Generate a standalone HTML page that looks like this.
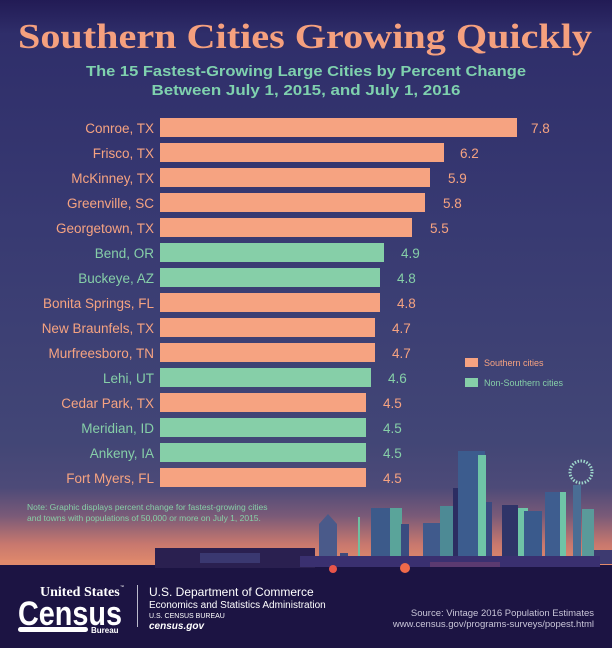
<!DOCTYPE html>
<html><head><meta charset="utf-8"><style>
html,body{margin:0;padding:0;background:#1c1443}
svg{display:block}
</style></head><body>
<svg width="612" height="648" viewBox="0 0 612 648" xmlns="http://www.w3.org/2000/svg">
<defs>
<linearGradient id="bg" x1="0" y1="0" x2="0" y2="567" gradientUnits="userSpaceOnUse">
<stop offset="0" stop-color="#221b55"/>
<stop offset="0.06" stop-color="#2f2e6a"/>
<stop offset="0.40" stop-color="#383a72"/>
<stop offset="0.78" stop-color="#424676"/>
<stop offset="0.86" stop-color="#4d4a78"/>
<stop offset="0.91" stop-color="#7a5a78"/>
<stop offset="0.96" stop-color="#c8786e"/>
<stop offset="1" stop-color="#e58d6b"/>
</linearGradient>
</defs>
<rect width="612" height="567" fill="url(#bg)"/>
<rect y="565" width="612" height="83" fill="#1c1443"/>

<text x="305" y="48" text-anchor="middle" font-family="Liberation Serif, serif" font-weight="bold" font-size="35" fill="#f5a07e" textLength="574" lengthAdjust="spacingAndGlyphs">Southern Cities Growing Quickly</text>
<g font-family="Liberation Sans, sans-serif" font-weight="bold" font-size="14.5" fill="#7fd1ae" text-anchor="middle">
<text x="306" y="76" textLength="440" lengthAdjust="spacingAndGlyphs">The 15 Fastest-Growing Large Cities by Percent Change</text>
<text x="306" y="95" textLength="309" lengthAdjust="spacingAndGlyphs">Between July 1, 2015, and July 1, 2016</text>
</g>

<g font-family="Liberation Sans, sans-serif" font-size="13.5">
<rect x="160" y="118" width="357" height="19" fill="#f6a381"/><text x="154" y="133" text-anchor="end" fill="#f6a381">Conroe, TX</text><text x="531" y="133" fill="#f6a381">7.8</text>
<rect x="160" y="143" width="284" height="19" fill="#f6a381"/><text x="154" y="158" text-anchor="end" fill="#f6a381">Frisco, TX</text><text x="460" y="158" fill="#f6a381">6.2</text>
<rect x="160" y="168" width="270" height="19" fill="#f6a381"/><text x="154" y="183" text-anchor="end" fill="#f6a381">McKinney, TX</text><text x="448" y="183" fill="#f6a381">5.9</text>
<rect x="160" y="193" width="265" height="19" fill="#f6a381"/><text x="154" y="208" text-anchor="end" fill="#f6a381">Greenville, SC</text><text x="443" y="208" fill="#f6a381">5.8</text>
<rect x="160" y="218" width="252" height="19" fill="#f6a381"/><text x="154" y="233" text-anchor="end" fill="#f6a381">Georgetown, TX</text><text x="430" y="233" fill="#f6a381">5.5</text>
<rect x="160" y="243" width="224" height="19" fill="#86cfa8"/><text x="154" y="258" text-anchor="end" fill="#86cfa8">Bend, OR</text><text x="401" y="258" fill="#86cfa8">4.9</text>
<rect x="160" y="268" width="220" height="19" fill="#86cfa8"/><text x="154" y="283" text-anchor="end" fill="#86cfa8">Buckeye, AZ</text><text x="397" y="283" fill="#86cfa8">4.8</text>
<rect x="160" y="293" width="220" height="19" fill="#f6a381"/><text x="154" y="308" text-anchor="end" fill="#f6a381">Bonita Springs, FL</text><text x="397" y="308" fill="#f6a381">4.8</text>
<rect x="160" y="318" width="215" height="19" fill="#f6a381"/><text x="154" y="333" text-anchor="end" fill="#f6a381">New Braunfels, TX</text><text x="392" y="333" fill="#f6a381">4.7</text>
<rect x="160" y="343" width="215" height="19" fill="#f6a381"/><text x="154" y="358" text-anchor="end" fill="#f6a381">Murfreesboro, TN</text><text x="392" y="358" fill="#f6a381">4.7</text>
<rect x="160" y="368" width="211" height="19" fill="#86cfa8"/><text x="154" y="383" text-anchor="end" fill="#86cfa8">Lehi, UT</text><text x="388" y="383" fill="#86cfa8">4.6</text>
<rect x="160" y="393" width="206" height="19" fill="#f6a381"/><text x="154" y="408" text-anchor="end" fill="#f6a381">Cedar Park, TX</text><text x="383" y="408" fill="#f6a381">4.5</text>
<rect x="160" y="418" width="206" height="19" fill="#86cfa8"/><text x="154" y="433" text-anchor="end" fill="#86cfa8">Meridian, ID</text><text x="383" y="433" fill="#86cfa8">4.5</text>
<rect x="160" y="443" width="206" height="19" fill="#86cfa8"/><text x="154" y="458" text-anchor="end" fill="#86cfa8">Ankeny, IA</text><text x="383" y="458" fill="#86cfa8">4.5</text>
<rect x="160" y="468" width="206" height="19" fill="#f6a381"/><text x="154" y="483" text-anchor="end" fill="#f6a381">Fort Myers, FL</text><text x="383" y="483" fill="#f6a381">4.5</text>
</g>

<rect x="465" y="358" width="13" height="9" fill="#f6a381"/>
<text x="484" y="366" font-family="Liberation Sans, sans-serif" font-size="9" fill="#f6a381">Southern cities</text>
<rect x="465" y="378" width="13" height="9" fill="#86cfa8"/>
<text x="484" y="386" font-family="Liberation Sans, sans-serif" font-size="9" fill="#86cfa8">Non-Southern cities</text>

<g font-family="Liberation Sans, sans-serif" font-size="8.5" fill="#86cfa8">
<text x="27" y="510">Note: Graphic displays percent change for fastest-growing cities</text>
<text x="27" y="521">and towns with populations of 50,000 or more on July 1, 2015.</text>
</g>

<g>
<rect x="155" y="548" width="160" height="20" fill="#2a2050"/>
<rect x="200" y="553" width="60" height="10" fill="#3a3870"/>
<polygon points="319,560 319,524 328,514 337,524 337,560" fill="#4a5a8a"/>
<rect x="340" y="553" width="8" height="10" fill="#3d4a7c"/>
<rect x="358" y="517" width="2" height="40" fill="#6fbfa0"/>
<rect x="371" y="508" width="30" height="52" fill="#3c5a8a"/>
<rect x="390" y="508" width="12" height="52" fill="#5aa49a"/>
<rect x="401" y="524" width="8" height="36" fill="#3a4c80"/>
<rect x="423" y="523" width="18" height="40" fill="#405a8c"/>
<rect x="440" y="506" width="14" height="58" fill="#4d8a95"/>
<rect x="453" y="488" width="8" height="75" fill="#2c2d62"/>
<rect x="458" y="451" width="27" height="115" fill="#3c5c8e"/>
<rect x="478" y="455" width="8" height="110" fill="#6fc4a7"/>
<rect x="486" y="502" width="6" height="62" fill="#3a4a80"/>
<rect x="502" y="505" width="16" height="58" fill="#2f3468"/>
<rect x="518" y="508" width="10" height="58" fill="#6fc4a7"/>
<rect x="524" y="511" width="18" height="56" fill="#3a5a8c"/>
<rect x="545" y="492" width="20" height="74" fill="#3e5d8f"/>
<rect x="560" y="492" width="6" height="74" fill="#6fc4a7"/>
<rect x="573" y="485" width="8" height="82" fill="#4a6d94"/>
<circle cx="581" cy="472" r="11" fill="none" stroke="#9fd8cc" stroke-width="3" stroke-dasharray="1.5 1.5"/>
<rect x="582" y="509" width="12" height="58" fill="#5a9a9a"/>
<rect x="594" y="550" width="18" height="14" fill="#3d3a70"/>
<rect x="300" y="556" width="300" height="11" fill="#3a3070"/>
<circle cx="333" cy="569" r="4" fill="#e8554a"/>
<circle cx="405" cy="568" r="5" fill="#ef6a4a"/>
<rect x="430" y="562" width="70" height="5" fill="#5b3a70"/>
</g>
<rect y="560" width="155" height="5" fill="#e08a6c"/>

<g fill="#ffffff" font-family="Liberation Sans, sans-serif">
<text x="40" y="596" font-size="14" font-weight="bold" font-family="Liberation Serif, serif">United States</text>
<text x="120" y="588" font-size="4">™</text>
<text x="18" y="625" font-size="34" font-weight="bold" textLength="104" lengthAdjust="spacingAndGlyphs">Census</text>
<rect x="18" y="627" width="70" height="5" rx="2.5"/>
<text x="91" y="633" font-size="8" font-weight="bold">Bureau</text>
<rect x="137" y="585" width="1" height="42" fill="#bbbbcc"/>
<text x="149" y="596" font-size="12">U.S. Department of Commerce</text>
<text x="149" y="608" font-size="10">Economics and Statistics Administration</text>
<text x="149" y="618" font-size="7">U.S. CENSUS BUREAU</text>
<text x="149" y="629" font-size="10" font-weight="bold" font-style="italic">census.gov</text>
</g>
<g fill="#c9c6d8" font-family="Liberation Sans, sans-serif" font-size="9.5" text-anchor="end">
<text x="594" y="616">Source: Vintage 2016 Population Estimates</text>
<text x="594" y="627">www.census.gov/programs-surveys/popest.html</text>
</g>
</svg>
</body></html>
